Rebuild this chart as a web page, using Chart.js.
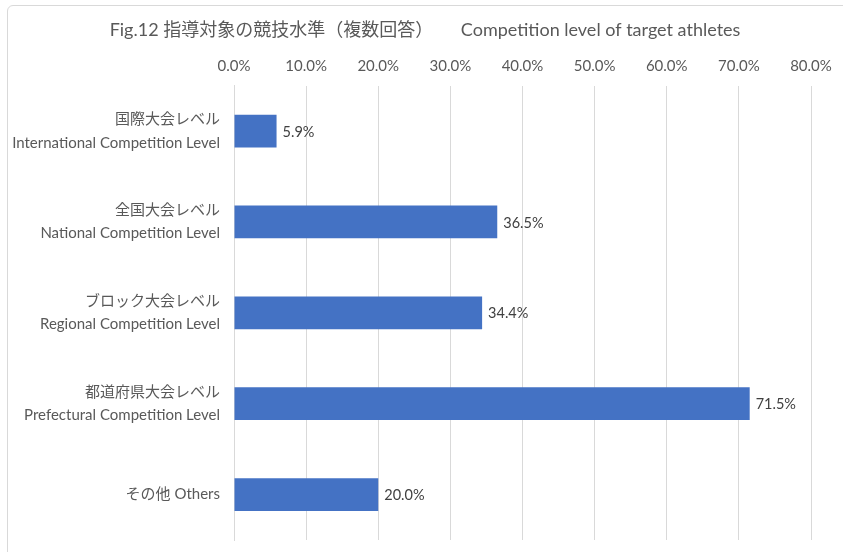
<!DOCTYPE html>
<html>
<head>
<meta charset="utf-8">
<script src="https://cdn.jsdelivr.net/npm/chart.js@4.4.1/dist/chart.umd.min.js"></script>
<style>
    html, body { margin: 0; padding: 0; background: #ffffff; }
    #frame {
        position: absolute; left: 7px; top: 5px; width: 860px; height: 570px;
        border: 1px solid #d9d9d9; border-radius: 6px; box-sizing: border-box;
    }
    #wrap { position: absolute; left: 0; top: 0; width: 843px; height: 552px; }
</style>
</head>
<body>
<div id="frame"></div>
<div id="wrap"><canvas id="barChart" width="843" height="552"></canvas></div>
<script>
// data
const kategoriJp = ['国際大会レベル', '全国大会レベル', 'ブロック大会レベル', '都道府県大会レベル', 'その他'];
const kategoriEn = ['International Competition Level', 'National Competition Level', 'Regional Competition Level', 'Prefectural Competition Level', 'Others'];
const persen = [5.9, 36.5, 34.4, 71.5, 20.0];
const xTicks = [0, 10, 20, 30, 40, 50, 60, 70, 80];

const FONT = "Lato, 'Noto Sans CJK JP', sans-serif";

// label "その他 Others" stays on one line, others get two
const labels = kategoriJp.map((jp, i) => i === kategoriJp.length - 1 ? jp + ' ' + kategoriEn[i] : [jp, kategoriEn[i]]);

// draw value text at the end of each bar
const labelBar = {
    id: 'labelBar',
    afterDatasetsDraw(chart) {
        const ctx = chart.ctx;
        const meta = chart.getDatasetMeta(0);
        ctx.save();
        ctx.font = '14.5px ' + FONT;
        ctx.fillStyle = '#404040';
        ctx.textAlign = 'left';
        ctx.textBaseline = 'middle';
        meta.data.forEach((bar, i) => {
            ctx.fillText(persen[i].toFixed(1) + '%', bar.x + 6, bar.y + 1);
        });
        ctx.restore();
    }
};

new Chart(document.getElementById('barChart'), {
    type: 'bar',
    data: {
        labels: labels,
        datasets: [{
            data: persen,
            backgroundColor: '#4472c4',
            borderWidth: 0,
            categoryPercentage: 1,
            barPercentage: 0.36
        }]
    },
    options: {
        indexAxis: 'y',
        responsive: false,
        animation: false,
        layout: { padding: { left: 7, right: 0, top: 6, bottom: 12 } },
        plugins: {
            legend: { display: false },
            tooltip: { enabled: false },
            title: {
                display: true,
                text: 'Fig.12 指導対象の競技水準（複数回答）      Competition level of target athletes',
                color: '#595959',
                font: { family: FONT, size: 18, weight: 'normal' },
                padding: { top: 13, bottom: 7 }
            }
        },
        scales: {
            x: {
                position: 'top',
                min: xTicks[0],
                max: xTicks[xTicks.length - 1],
                afterBuildTicks: function(scale) {
                    scale.ticks = xTicks.map(v => ({ value: v }));
                },
                afterFit: function(scale) {
                    scale.paddingLeft = 0;
                    scale.paddingRight = 32;
                },
                grid: { color: '#d9d9d9', drawTicks: false },
                border: { display: false },
                ticks: {
                    padding: 10,
                    color: '#595959',
                    font: { family: FONT, size: 15 },
                    maxRotation: 0,
                    callback: function(value) { return value.toFixed(1) + '%'; }
                }
            },
            y: {
                grid: { display: false, drawTicks: false },
                border: { display: true, color: '#d9d9d9' },
                afterFit: function(scale) {
                    scale.width = 227;
                    scale.paddingTop = 0;
                    scale.paddingBottom = 0;
                },
                ticks: {
                    padding: 14,
                    color: '#595959',
                    font: { family: FONT, size: 15, lineHeight: 1.55 }
                }
            }
        }
    },
    plugins: [labelBar]
});
</script>
</body>
</html>
